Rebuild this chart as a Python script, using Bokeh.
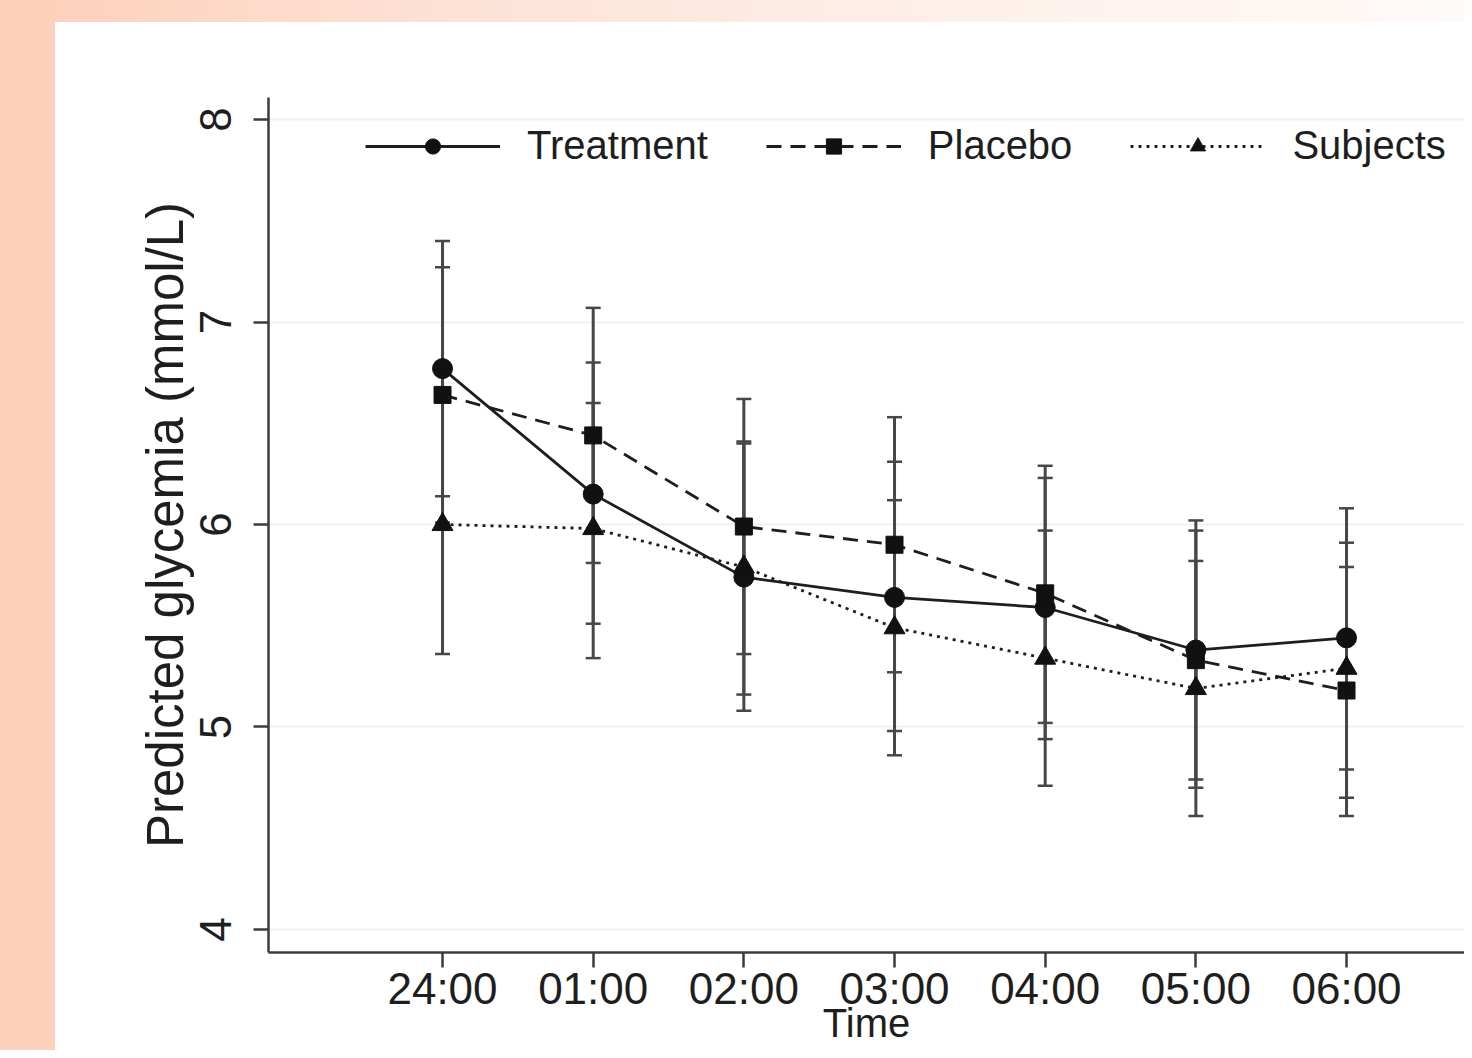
from bokeh.plotting import figure
from bokeh.models import (Range1d, FixedTicker, ColumnDataSource, Whisker, TeeHead,
                          Legend, LegendItem)
from bokeh.embed import file_html
from bokeh.resources import INLINE

# ---------------- data ----------------
times = ["24:00", "01:00", "02:00", "03:00", "04:00", "05:00", "06:00"]
y_ticks = [4, 5, 6, 7, 8]

treat = [6.77, 6.15, 5.74, 5.64, 5.59, 5.38, 5.44]
treat_lo = [6.14, 5.51, 5.08, 4.98, 4.94, 4.74, 4.79]
treat_hi = [7.40, 6.80, 6.40, 6.31, 6.23, 6.02, 6.08]

placebo = [6.64, 6.44, 5.99, 5.90, 5.66, 5.33, 5.18]
placebo_lo = [6.01, 5.81, 5.36, 5.27, 5.02, 4.70, 4.56]
placebo_hi = [7.27, 7.07, 6.62, 6.53, 6.29, 5.97, 5.79]

subj = [6.00, 5.98, 5.79, 5.49, 5.34, 5.19, 5.29]
subj_lo = [5.36, 5.34, 5.16, 4.86, 4.71, 4.56, 4.65]
subj_hi = [6.64, 6.60, 6.41, 6.12, 5.97, 5.82, 5.91]

xs = list(range(len(times)))

FONT = "Liberation Sans"
INK = "#1e1e1e"
BAR = "#474747"

W, H = 1464, 1050
p = figure(width=W, height=H, output_backend="svg", toolbar_location=None,
           x_range=Range1d(-1.155, 6.783), y_range=Range1d(3.886, 8.109),
           min_border_left=268, min_border_right=0, min_border_top=97, min_border_bottom=98)
p.outline_line_color = None
p.background_fill_color = "white"
p.border_fill_color = None
p.styles = {
    "background": ("linear-gradient(#fdd0b9, #fdd0b9) 0 0 / 55px 100% no-repeat, "
                   "linear-gradient(to right, #fdcfb9 0px, #fde0d3 400px, #fef1ec 1000px, #fefaf8 1464px) "
                   "0 0 / 100% 22px no-repeat, #ffffff")
}

# axes
p.xaxis.ticker = FixedTicker(ticks=xs)
p.xaxis.major_label_overrides = {i: t for i, t in zip(xs, times)}
p.yaxis.ticker = FixedTicker(ticks=y_ticks)
for ax in (p.xaxis[0], p.yaxis[0]):
    ax.axis_line_color = "#3c3c3c"
    ax.axis_line_width = 2.5
    ax.major_tick_line_color = "#3c3c3c"
    ax.major_tick_line_width = 2.5
    ax.major_tick_out = 15
    ax.major_tick_in = 0
    ax.minor_tick_line_color = None
    ax.major_label_text_font = FONT
    ax.major_label_text_font_size = "44px"
    ax.major_label_text_color = INK
    ax.axis_label_text_font = FONT
    ax.axis_label_text_font_style = "normal"
    ax.axis_label_text_color = INK
p.xaxis.major_label_standoff = -4
p.xaxis.axis_label = "Time"
p.xaxis.axis_label_text_font_size = "40px"
p.xaxis.axis_label_standoff = -15
p.yaxis.major_label_orientation = "vertical"
p.yaxis.major_label_standoff = 22
p.yaxis.axis_label = "Predicted glycemia (mmol/L)"
p.yaxis.axis_label_text_font_size = "51px"
p.yaxis.axis_label_standoff = 4

p.xgrid.grid_line_color = None
p.ygrid.ticker = FixedTicker(ticks=y_ticks)
p.ygrid.grid_line_color = "#f1f1f1"
p.ygrid.grid_line_width = 2

# error bars
for lo, hi in ((treat_lo, treat_hi), (placebo_lo, placebo_hi), (subj_lo, subj_hi)):
    src = ColumnDataSource(dict(x=xs, lo=lo, hi=hi))
    w = Whisker(base="x", lower="lo", upper="hi", source=src, dimension="height",
                line_color=BAR, line_width=3, level="underlay",
                upper_head=TeeHead(size=15, line_color=BAR, line_width=2.5),
                lower_head=TeeHead(size=15, line_color=BAR, line_width=2.5))
    p.add_layout(w)

# series
l1 = p.line(xs, treat, line_color=INK, line_width=2.8)
m1 = p.scatter(xs, treat, marker="circle", size=20, fill_color="#111111", line_color="#111111")
l2 = p.line(xs, placebo, line_color=INK, line_width=2.8, line_dash="15 9")
m2 = p.scatter(xs, placebo, marker="square", size=17, fill_color="#111111", line_color="#111111")
l3 = p.line(xs, subj, line_color=INK, line_width=2.8, line_dash="3 5")
m3 = p.scatter(xs, subj, marker="triangle", size=21, fill_color="#111111", line_color="#111111")

legend = Legend(items=[LegendItem(label="Treatment", renderers=[l1, m1]),
                       LegendItem(label="Placebo", renderers=[l2, m2]),
                       LegendItem(label="Subjects", renderers=[l3, m3])],
                orientation="horizontal", location=(97, 784), padding=0, margin=0,
                spacing=58, glyph_width=135, glyph_height=38, label_standoff=27,
                label_text_font=FONT, label_text_font_size="40px", label_text_color=INK,
                background_fill_alpha=0, border_line_color=None)
p.add_layout(legend, "center")

open("out.html", "w").write(file_html(p, INLINE))
